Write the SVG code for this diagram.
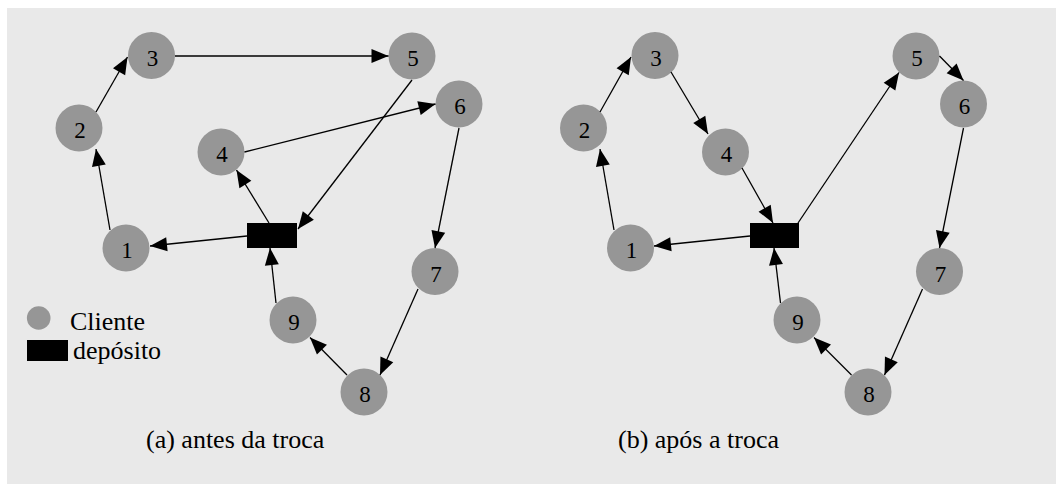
<svg xmlns="http://www.w3.org/2000/svg" width="1056" height="484" viewBox="0 0 1056 484">
<defs>
<marker id="arr" markerUnits="userSpaceOnUse" viewBox="0 0 17 14" markerWidth="17" markerHeight="14" refX="17" refY="7" orient="auto" overflow="visible">
<path d="M0,0 L17,7 L0,14 z" fill="#000"/>
</marker>
<style>
.n circle{fill:#969696}
.n text{font-size:23px;text-anchor:middle}
.t{font-size:26px}
.d{fill:#000}
.e line{stroke:#000;stroke-width:1.3;marker-end:url(#arr)}
</style>
</defs>
<rect x="7" y="8" width="1049" height="476" fill="#e9e9e9"/>
<g font-family="'Liberation Serif', 'Times New Roman', 'DejaVu Serif', serif" fill="#000">

<!-- Panel (a) -->
<g id="a-nodes">
<g id="a1" class="n"><circle cx="126" cy="248" r="23.5"/><text x="127" y="258">1</text></g>
<g id="a2" class="n"><circle cx="79" cy="128" r="23.5"/><text x="80" y="138">2</text></g>
<g id="a3" class="n"><circle cx="151.5" cy="55.5" r="23.5"/><text x="152.5" y="66">3</text></g>
<g id="a4" class="n"><circle cx="221" cy="152" r="23.5"/><text x="222" y="162">4</text></g>
<g id="a5" class="n"><circle cx="412" cy="56" r="23.5"/><text x="413" y="66">5</text></g>
<g id="a6" class="n"><circle cx="459" cy="104" r="23.5"/><text x="460" y="114">6</text></g>
<g id="a7" class="n"><circle cx="435" cy="271.5" r="23.5"/><text x="436" y="281.5">7</text></g>
<g id="a8" class="n"><circle cx="364" cy="392" r="23.5"/><text x="365" y="402">8</text></g>
<g id="a9" class="n"><circle cx="293" cy="320" r="23.5"/><text x="294" y="330">9</text></g>
<g id="a-depot"><rect class="d" x="247" y="223" width="50" height="25"/></g>
</g>
<g id="a-edges" class="e">
<line x1="247" y1="236" x2="150" y2="246"/>
<line x1="110" y1="230" x2="96" y2="149"/>
<line x1="96" y1="112" x2="127.5" y2="57"/>
<line x1="175" y1="56" x2="388.5" y2="56"/>
<line x1="412" y1="80" x2="298" y2="229"/>
<line x1="269" y1="223" x2="236.5" y2="170"/>
<line x1="244.5" y1="152" x2="435.5" y2="104"/>
<line x1="459" y1="128" x2="435" y2="248"/>
<line x1="418" y1="289" x2="380" y2="375"/>
<line x1="347" y1="375" x2="310" y2="337.5"/>
<line x1="276" y1="303" x2="270" y2="248"/>
</g>

<!-- Legend -->
<g id="legend">
<circle cx="38.7" cy="318" r="11.8" fill="#969696"/>
<text class="t" x="70" y="330">Cliente</text>
<rect x="27" y="340" width="41" height="21" fill="#000"/>
<text class="t" x="73" y="359">depósito</text>
</g>
<text class="t" x="146" y="448">(a) antes da troca</text>

<!-- Panel (b) -->
<g id="b-nodes">
<g id="b1" class="n"><circle cx="630.5" cy="248" r="23.5"/><text x="631.5" y="258">1</text></g>
<g id="b2" class="n"><circle cx="583.5" cy="128" r="23.5"/><text x="584.5" y="138">2</text></g>
<g id="b3" class="n"><circle cx="655" cy="55.5" r="23.5"/><text x="656" y="66">3</text></g>
<g id="b4" class="n"><circle cx="725.5" cy="152" r="23.5"/><text x="726.5" y="162">4</text></g>
<g id="b5" class="n"><circle cx="916" cy="56" r="23.5"/><text x="917" y="66">5</text></g>
<g id="b6" class="n"><circle cx="963.5" cy="104" r="23.5"/><text x="964.5" y="114">6</text></g>
<g id="b7" class="n"><circle cx="939.5" cy="271.5" r="23.5"/><text x="940.5" y="281.5">7</text></g>
<g id="b8" class="n"><circle cx="868" cy="392" r="23.5"/><text x="869" y="402">8</text></g>
<g id="b9" class="n"><circle cx="797" cy="320" r="23.5"/><text x="798" y="330">9</text></g>
<g id="b-depot"><rect class="d" x="750" y="223" width="49" height="25"/></g>
</g>
<g id="b-edges" class="e">
<line x1="750" y1="236" x2="654" y2="246"/>
<line x1="614" y1="230" x2="600" y2="149"/>
<line x1="600" y1="112" x2="631" y2="57"/>
<line x1="671" y1="72" x2="708" y2="134"/>
<line x1="742" y1="168" x2="773" y2="223"/>
<line x1="798" y1="223" x2="899" y2="72.5"/>
<line x1="939.5" y1="56" x2="963.5" y2="80.5"/>
<line x1="963.5" y1="128" x2="939.5" y2="248"/>
<line x1="922.5" y1="289" x2="884.5" y2="375"/>
<line x1="851.5" y1="375" x2="814" y2="337.5"/>
<line x1="780.5" y1="303" x2="774" y2="248"/>
</g>
<text class="t" x="618" y="448">(b) após a troca</text>
</g>
</svg>
